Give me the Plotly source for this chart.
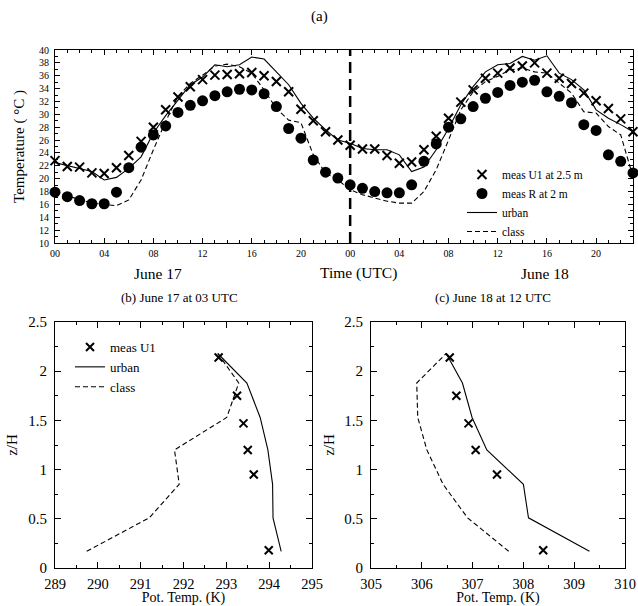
import plotly.graph_objects as go

# ---------------- data: panel (a) ----------------
hours = list(range(48))
meas_u1 = [22.8, 21.9, 21.8, 20.9, 20.8, 21.7, 23.6, 25.8, 28.0, 30.7, 32.7, 34.3,
           35.4, 36.1, 36.2, 36.3, 36.5, 36.0, 35.1, 33.5, 30.8, 29.0, 27.3, 26.0,
           25.2, 24.6, 24.6, 23.6, 22.4, 22.6, 24.5, 26.6, 29.4, 31.9, 33.8, 35.6,
           36.4, 37.2, 37.5, 38.0, 36.4, 35.6, 34.8, 33.3, 32.1, 30.9, 29.3, 27.3]
meas_r = [17.9, 17.2, 16.6, 16.1, 16.1, 17.9, 21.7, 24.9, 26.8, 28.2, 30.3, 31.4,
          32.1, 32.9, 33.5, 33.9, 33.8, 33.2, 31.2, 27.8, 26.3, 22.9, 21.0, 20.1,
          19.05, 18.5, 18.0, 17.8, 17.8, 19.05, 22.7, 25.4, 28.0, 29.3, 31.2, 32.5,
          33.4, 34.5, 35.0, 35.3, 33.5, 32.8, 31.8, 28.4, 27.5, 23.7, 22.7, 20.9]
urban = [22.5, 22.0, 21.5, 21.1, 19.8, 20.2, 21.6, 23.4, 27.1, 29.8, 32.2, 34.6,
         35.8, 37.7, 37.4, 37.7, 38.9, 38.6, 36.6, 34.6, 31.7, 29.4, 27.6, 26.0,
         25.5, 24.7, 24.5, 24.5, 23.7, 21.1, 21.8, 24.5, 27.8, 31.5, 34.3, 36.6,
         37.7, 37.9, 39.0, 38.4, 39.1, 36.4, 35.4, 33.8, 30.7, 29.4, 28.4, 27.3]
clas = [17.9, 17.3, 16.7, 16.2, 16.0, 15.8, 16.7, 19.8, 24.5, 28.9, 32.8, 34.8,
        36.1, 37.5, 37.8, 37.4, 36.4, 33.8, 30.9, 29.1, 28.7, 23.7, 20.9, 19.8,
        18.3, 17.5, 17.0, 16.5, 16.2, 16.2, 18.0, 21.4, 26.0, 30.7, 33.5, 35.1,
        35.9, 36.9, 37.2, 36.6, 36.4, 34.8, 33.3, 30.4, 30.2, 28.1, 26.8, 20.3]
midnight_x = [24, 24]
midnight_y = [10, 40]
time_tickvals = [0, 4, 8, 12, 16, 20, 24, 28, 32, 36, 40, 44]
time_ticktext = ["00", "04", "08", "12", "16", "20", "00", "04", "08", "12", "16", "20"]

# ---------------- data: panel (b) ----------------
b_u1_theta = [292.82, 293.25, 293.40, 293.50, 293.64, 293.99]
b_u1_z = [2.14, 1.75, 1.47, 1.20, 0.95, 0.18]
b_urban_theta = [294.28, 294.09, 294.08, 293.97, 293.79, 293.48, 292.80]
b_class_theta = [289.74, 291.20, 291.90, 291.79, 293.01, 293.29, 292.80]
model_z = [0.17, 0.51, 0.85, 1.20, 1.53, 1.88, 2.18]

# ---------------- data: panel (c) ----------------
c_u1_theta = [306.55, 306.68, 306.92, 307.06, 307.48, 308.39]
c_u1_z = [2.14, 1.75, 1.47, 1.20, 0.95, 0.18]
c_urban_theta = [309.30, 308.10, 308.00, 307.28, 306.99, 306.80, 306.48]
c_class_theta = [307.71, 306.90, 306.42, 306.10, 305.92, 305.90, 306.48]

FONT = "Liberation Serif, Times New Roman, serif"
W, H = 638, 606
DASH = "5px,3px"
fig = go.Figure()

# panel (a)
fig.add_trace(go.Scatter(x=midnight_x, y=midnight_y, mode="lines", showlegend=False,
                         line=dict(color="black", width=2.5, dash="11px,6px"), xaxis="x", yaxis="y"))
fig.add_trace(go.Scatter(x=hours, y=urban, mode="lines", name="urban", legend="legend",
                         line=dict(color="black", width=1.1), xaxis="x", yaxis="y"))
fig.add_trace(go.Scatter(x=hours, y=clas, mode="lines", name="class", legend="legend",
                         line=dict(color="black", width=1.1, dash=DASH), xaxis="x", yaxis="y"))
fig.add_trace(go.Scatter(x=hours, y=meas_u1, mode="markers", name="meas U1 at 2.5 m", legend="legend",
                         marker=dict(symbol="x-thin", size=9, line=dict(color="black", width=2)),
                         cliponaxis=False, xaxis="x", yaxis="y"))
fig.add_trace(go.Scatter(x=hours, y=meas_r, mode="markers", name="meas R at 2 m", legend="legend",
                         marker=dict(symbol="circle", size=11, color="black"),
                         cliponaxis=False, xaxis="x", yaxis="y"))

# panel (b)
fig.add_trace(go.Scatter(x=b_u1_theta, y=b_u1_z, mode="markers", name="meas U1", legend="legend2",
                         marker=dict(symbol="x-thin", size=8, line=dict(color="black", width=2)),
                         xaxis="x2", yaxis="y2"))
fig.add_trace(go.Scatter(x=b_urban_theta, y=model_z, mode="lines", name="urban", legend="legend2",
                         line=dict(color="black", width=1.1), xaxis="x2", yaxis="y2"))
fig.add_trace(go.Scatter(x=b_class_theta, y=model_z, mode="lines", name="class", legend="legend2",
                         line=dict(color="black", width=1.1, dash=DASH), xaxis="x2", yaxis="y2"))

# panel (c)
fig.add_trace(go.Scatter(x=c_u1_theta, y=c_u1_z, mode="markers", showlegend=False,
                         marker=dict(symbol="x-thin", size=8, line=dict(color="black", width=2)),
                         xaxis="x3", yaxis="y3"))
fig.add_trace(go.Scatter(x=c_urban_theta, y=model_z, mode="lines", showlegend=False,
                         line=dict(color="black", width=1.1), xaxis="x3", yaxis="y3"))
fig.add_trace(go.Scatter(x=c_class_theta, y=model_z, mode="lines", showlegend=False,
                         line=dict(color="black", width=1.1, dash=DASH), xaxis="x3", yaxis="y3"))

axis_common = dict(showgrid=False, zeroline=False, showline=True, linecolor="black", linewidth=1.2,
                   mirror="allticks", ticks="inside", tickcolor="black", color="black",
                   automargin=False)


def px_y(y):
    return 1 - y / H


def px_x(x):
    return x / W


def label(text, x, y, size):
    return dict(text=text, x=px_x(x), y=px_y(y), xref="paper", yref="paper",
                xanchor="center", yanchor="middle", showarrow=False, font=dict(size=size))


fig.update_layout(
    width=W, height=H,
    margin=dict(l=0, r=0, t=0, b=0, autoexpand=False),
    paper_bgcolor="white", plot_bgcolor="white",
    font=dict(family=FONT, color="black"),
    xaxis=dict(domain=[px_x(55), px_x(633)], anchor="y", range=[0, 47],
               tickmode="array", tickvals=time_tickvals, ticktext=time_ticktext,
               ticklen=5, tickfont=dict(size=10), ticklabelstandoff=1,
               minor=dict(ticks="inside", dtick=1, tick0=0, ticklen=3, tickcolor="black"),
               **axis_common),
    yaxis=dict(domain=[px_y(243), px_y(50)], anchor="x", range=[10, 40], dtick=2,
               ticklen=5, tickfont=dict(size=10), ticklabelstandoff=3,
               minor=dict(ticks="inside", dtick=1, ticklen=3, tickcolor="black"),
               title=dict(text="Temperature ( °C )", font=dict(size=15), standoff=10),
               **axis_common),
    xaxis2=dict(domain=[px_x(55), px_x(312)], anchor="y2", range=[289, 295], dtick=1,
                ticklen=6, tickfont=dict(size=14.5), ticklabelstandoff=2,
                minor=dict(ticks="inside", dtick=0.5, ticklen=3, tickcolor="black"),
                title=dict(text="Pot. Temp. (K)", font=dict(size=14), standoff=4),
                **axis_common),
    yaxis2=dict(domain=[px_y(568), px_y(322)], anchor="x2", range=[0, 2.5], dtick=0.5,
                ticklen=6, tickfont=dict(size=15), ticklabelstandoff=4,
                minor=dict(ticks="inside", dtick=0.25, ticklen=3, tickcolor="black"),
                title=dict(text="z/H", font=dict(size=15), standoff=6),
                **axis_common),
    xaxis3=dict(domain=[px_x(371), px_x(625)], anchor="y3", range=[305, 310], dtick=1,
                ticklen=6, tickfont=dict(size=14.5), ticklabelstandoff=2,
                minor=dict(ticks="inside", dtick=0.5, ticklen=3, tickcolor="black"),
                title=dict(text="Pot. Temp. (K)", font=dict(size=14), standoff=4),
                **axis_common),
    yaxis3=dict(domain=[px_y(568), px_y(322)], anchor="x3", range=[0, 2.5], dtick=0.5,
                ticklen=6, tickfont=dict(size=15), ticklabelstandoff=4,
                minor=dict(ticks="inside", dtick=0.25, ticklen=3, tickcolor="black"),
                title=dict(text="z/H", font=dict(size=15), standoff=5),
                **axis_common),
    legend=dict(x=px_x(462), y=px_y(160), xanchor="left", yanchor="top",
                bgcolor="rgba(0,0,0,0)", font=dict(size=11.5, family=FONT),
                traceorder="normal", tracegroupgap=0),
    legend2=dict(x=px_x(70), y=px_y(332), xanchor="left", yanchor="top",
                 bgcolor="rgba(0,0,0,0)", font=dict(size=13, family=FONT),
                 traceorder="normal", tracegroupgap=0),
    annotations=[
        label("(a)", 320, 17, 15),
        label("June 17", 158, 273, 15.5),
        label("Time (UTC)", 358, 273, 15.5),
        label("June 18", 545, 273, 15.5),
        label("(b) June 17 at 03 UTC", 179, 297, 13),
        label("(c) June 18 at 12 UTC", 493, 297, 13),
    ],
)

# legend ordering for panel (a): markers first
fig.data[3].legendrank = 1
fig.data[4].legendrank = 2
fig.data[1].legendrank = 3
fig.data[2].legendrank = 4

fig.write_html("out.html", config={"displayModeBar": False},
               post_script="document.body.style.margin='0';")
